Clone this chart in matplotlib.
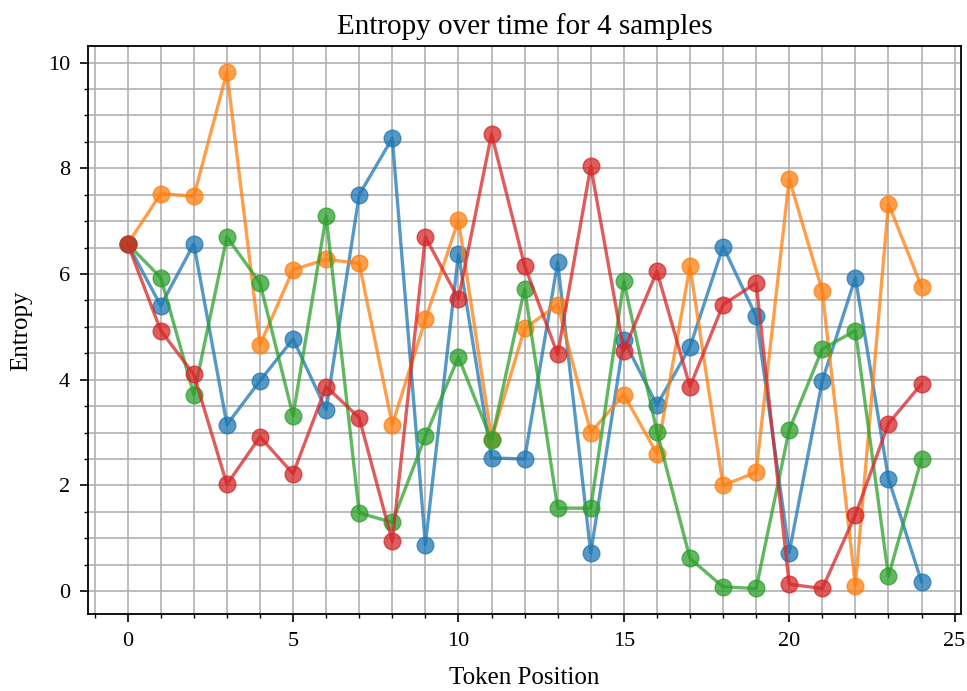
# Entropy per token position for four sampled generations
import numpy as np
import matplotlib.pyplot as plt
from matplotlib.ticker import MultipleLocator

positions = np.arange(25)
sample_0 = [6.57, 5.40, 6.57, 3.15, 3.98, 4.77, 3.43, 7.50, 8.57, 0.88, 6.38, 2.52, 2.50,
            6.22, 0.72, 4.75, 3.52, 4.62, 6.52, 5.20, 0.73, 3.98, 5.93, 2.13, 0.18]
sample_1 = [6.57, 7.52, 7.47, 9.82, 4.66, 6.08, 6.28, 6.20, 3.15, 5.14, 7.02, 2.88, 4.97,
            5.42, 3.00, 3.72, 2.60, 6.15, 2.00, 2.25, 7.80, 5.68, 0.10, 7.33, 5.76]
sample_2 = [6.57, 5.93, 3.72, 6.70, 5.83, 3.32, 7.10, 1.48, 1.30, 2.93, 4.43, 2.85, 5.72,
            1.57, 1.57, 5.86, 3.02, 0.62, 0.08, 0.05, 3.05, 4.58, 4.93, 0.28, 2.50]
sample_3 = [6.57, 4.93, 4.10, 2.02, 2.92, 2.22, 3.87, 3.28, 0.94, 6.70, 5.53, 8.65, 6.16,
            4.48, 8.04, 4.55, 6.05, 3.87, 5.42, 5.83, 0.13, 0.05, 1.44, 3.17, 3.92]
samples = [sample_0, sample_1, sample_2, sample_3]

plt.rc('font', family=['Liberation Serif', 'DejaVu Serif'])
fig = plt.figure(figsize=(9.67, 6.91), dpi=100)
ax = fig.add_axes([0.091, 0.111, 0.903, 0.822])

for s in samples:
    ax.plot(positions, s, "o-", lw=2.4, ms=12, alpha=0.75)

ax.xaxis.set_major_locator(MultipleLocator(5))
ax.xaxis.set_minor_locator(MultipleLocator(1))
ax.yaxis.set_major_locator(MultipleLocator(2))
ax.yaxis.set_minor_locator(MultipleLocator(0.5))
ax.grid(True, which="both", color="#b0b0b0", lw=1.2)
ax.set_axisbelow(True)
ax.tick_params(which="major", length=6, width=1.2, labelsize=16, pad=7)
ax.tick_params(which="minor", length=3, width=1.0)
for sp in ax.spines.values():
    sp.set_linewidth(1.3)

ax.set_title("Entropy over time for 4 samples", fontsize=21, pad=9)
ax.set_xlabel("Token Position", fontsize=18, labelpad=11)
ax.set_ylabel("Entropy", fontsize=18, labelpad=11)

fig.savefig("out.png")
